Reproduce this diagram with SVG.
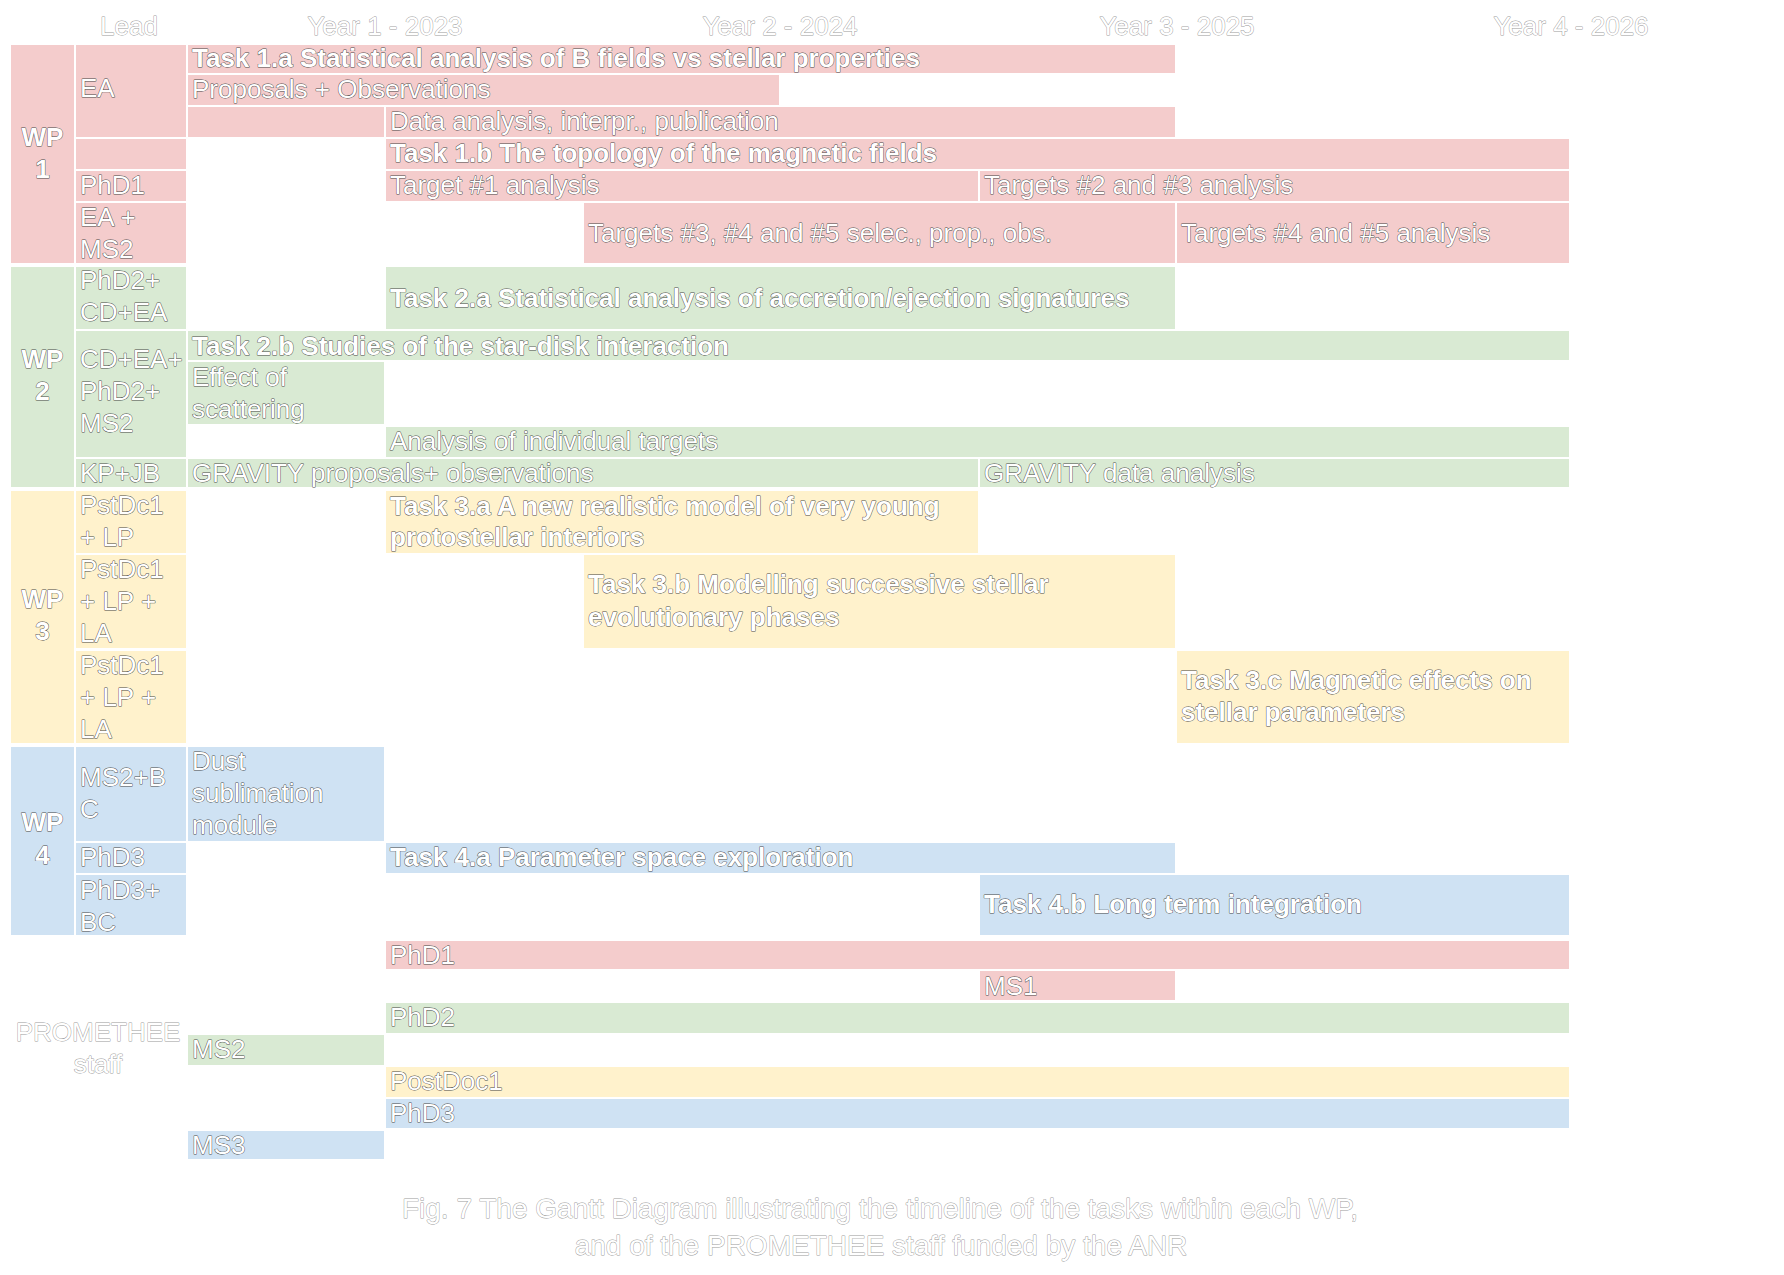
<svg xmlns="http://www.w3.org/2000/svg" width="1784" height="1275" viewBox="0 0 1784 1275">
<style>
.p{fill:#F4CCCC}.g{fill:#D9EAD3}.y{fill:#FFF2CC}.b{fill:#CFE2F3}
text{font-family:"Liberation Sans",Arial,sans-serif;font-size:26px;fill:#fff;stroke:#4a4a4a;stroke-width:0.9;paint-order:stroke;stroke-linejoin:round}
.bd{font-weight:bold}
.lt{stroke:#9a9a9a}
.c{text-anchor:middle}
.cap{font-size:28px}
</style>
<rect width="1784" height="1275" fill="#fff"/>
<g id="header">
<text class="lt c" x="129" y="35">Lead</text>
<text class="lt c" x="385" y="35">Year 1 - 2023</text>
<text class="lt c" x="780" y="35">Year 2 - 2024</text>
<text class="lt c" x="1177" y="35">Year 3 - 2025</text>
<text class="lt c" x="1571" y="35">Year 4 - 2026</text>
</g>
<g id="wp1">
<rect class="p" x="11" y="45" width="63" height="218"/>
<text class="bd c" x="42.5" y="146">WP</text>
<text class="bd c" x="42.5" y="178">1</text>
<g id="lead-ea"><rect class="p" x="76" y="45" width="110" height="92"/><text x="80" y="97">EA</text></g>
<g id="lead-empty1b"><rect class="p" x="76" y="139" width="110" height="30"/></g>
<g id="lead-phd1"><rect class="p" x="76" y="171" width="110" height="30"/><text x="80" y="194">PhD1</text></g>
<g id="lead-eams2"><rect class="p" x="76" y="203" width="110" height="60"/><text x="80" y="226">EA +</text><text x="80" y="258">MS2</text></g>
<g id="task1a"><rect class="p" x="188" y="45" width="987" height="28"/><text class="bd" x="192" y="67">Task 1.a Statistical analysis of B fields vs stellar properties</text></g>
<g id="proposals"><rect class="p" x="188" y="75" width="591" height="30"/><text x="192" y="98">Proposals + Observations</text></g>
<g id="data-empty"><rect class="p" x="188" y="107" width="196" height="30"/></g>
<g id="data-analysis"><rect class="p" x="386" y="107" width="789" height="30"/><text x="390" y="130">Data analysis, interpr., publication</text></g>
<g id="task1b"><rect class="p" x="386" y="139" width="1183" height="30"/><text class="bd" x="390" y="162">Task 1.b The topology of the magnetic fields</text></g>
<g id="target1"><rect class="p" x="386" y="171" width="592" height="30"/><text x="390" y="194">Target #1 analysis</text></g>
<g id="target23"><rect class="p" x="980" y="171" width="589" height="30"/><text x="984" y="194">Targets #2 and #3 analysis</text></g>
<g id="target345"><rect class="p" x="584" y="203" width="591" height="60"/><text x="588" y="242">Targets #3, #4 and #5 selec., prop., obs.</text></g>
<g id="target45"><rect class="p" x="1177" y="203" width="392" height="60"/><text x="1181" y="242">Targets #4 and #5 analysis</text></g>
</g>
<g id="wp2">
<rect class="g" x="11" y="267" width="63" height="220"/>
<text class="bd c" x="42.5" y="368">WP</text>
<text class="bd c" x="42.5" y="400">2</text>
<g id="lead-phd2cdea"><rect class="g" x="76" y="267" width="110" height="62"/><text x="80" y="289">PhD2+</text><text x="80" y="321">CD+EA</text></g>
<g id="lead-cdea"><rect class="g" x="76" y="331" width="110" height="126"/><text x="80" y="368">CD+EA+</text><text x="80" y="400">PhD2+</text><text x="80" y="432">MS2</text></g>
<g id="lead-kpjb"><rect class="g" x="76" y="459" width="110" height="28"/><text x="80" y="482">KP+JB</text></g>
<g id="task2a"><rect class="g" x="386" y="267" width="789" height="62"/><text class="bd" x="390" y="307">Task 2.a Statistical analysis of accretion/ejection signatures</text></g>
<g id="task2b"><rect class="g" x="188" y="331" width="1381" height="29"/><text class="bd" x="192" y="355">Task 2.b Studies of the star-disk interaction</text></g>
<g id="scattering"><rect class="g" x="188" y="362" width="196" height="62"/><text x="192" y="386">Effect of</text><text x="192" y="418">scattering</text></g>
<g id="individual"><rect class="g" x="386" y="427" width="1183" height="30"/><text x="390" y="450">Analysis of individual targets</text></g>
<g id="gravity-prop"><rect class="g" x="188" y="459" width="790" height="28"/><text x="192" y="482">GRAVITY proposals+ observations</text></g>
<g id="gravity-data"><rect class="g" x="980" y="459" width="589" height="28"/><text x="984" y="482">GRAVITY data analysis</text></g>
</g>
<g id="wp3">
<rect class="y" x="11" y="491" width="63" height="252"/>
<text class="bd c" x="42.5" y="608">WP</text>
<text class="bd c" x="42.5" y="640">3</text>
<g id="lead-3a"><rect class="y" x="76" y="491" width="110" height="62"/><text x="80" y="514">PstDc1</text><text x="80" y="546">+ LP</text></g>
<g id="lead-3b"><rect class="y" x="76" y="555" width="110" height="93"/><text x="80" y="578">PstDc1</text><text x="80" y="610">+ LP +</text><text x="80" y="642">LA</text></g>
<g id="lead-3c"><rect class="y" x="76" y="651" width="110" height="92"/><text x="80" y="674">PstDc1</text><text x="80" y="706">+ LP +</text><text x="80" y="738">LA</text></g>
<g id="task3a"><rect class="y" x="386" y="491" width="592" height="62"/><text class="bd" x="390" y="515">Task 3.a A new realistic model of very young</text><text class="bd" x="390" y="546">protostellar interiors</text></g>
<g id="task3b"><rect class="y" x="584" y="555" width="591" height="93"/><text class="bd" x="588" y="593">Task 3.b Modelling successive stellar</text><text class="bd" x="588" y="626">evolutionary phases</text></g>
<g id="task3c"><rect class="y" x="1177" y="651" width="392" height="92"/><text class="bd" x="1181" y="689">Task 3.c Magnetic effects on</text><text class="bd" x="1181" y="721">stellar parameters</text></g>
</g>
<g id="wp4">
<rect class="b" x="11" y="747" width="63" height="188"/>
<text class="bd c" x="42.5" y="831">WP</text>
<text class="bd c" x="42.5" y="864">4</text>
<g id="lead-4dust"><rect class="b" x="76" y="747" width="110" height="94"/><text x="80" y="786">MS2+B</text><text x="80" y="818">C</text></g>
<g id="lead-4a"><rect class="b" x="76" y="843" width="110" height="30"/><text x="80" y="866">PhD3</text></g>
<g id="lead-4b"><rect class="b" x="76" y="875" width="110" height="60"/><text x="80" y="899">PhD3+</text><text x="80" y="931">BC</text></g>
<g id="dust"><rect class="b" x="188" y="747" width="196" height="94"/><text x="192" y="770">Dust</text><text x="192" y="802">sublimation</text><text x="192" y="834">module</text></g>
<g id="task4a"><rect class="b" x="386" y="843" width="789" height="30"/><text class="bd" x="390" y="866">Task 4.a Parameter space exploration</text></g>
<g id="task4b"><rect class="b" x="980" y="875" width="589" height="60"/><text class="bd" x="984" y="913">Task 4.b Long term integration</text></g>
</g>
<g id="staff">
<text class="lt c" x="98" y="1041">PROMETHEE</text>
<text class="lt c" x="98" y="1073">staff</text>
<g id="s-phd1"><rect class="p" x="386" y="941" width="1183" height="28"/><text x="390" y="964">PhD1</text></g>
<g id="s-ms1"><rect class="p" x="980" y="971" width="195" height="29"/><text x="984" y="995">MS1</text></g>
<g id="s-phd2"><rect class="g" x="386" y="1003" width="1183" height="30"/><text x="390" y="1026">PhD2</text></g>
<g id="s-ms2"><rect class="g" x="188" y="1035" width="196" height="30"/><text x="192" y="1058">MS2</text></g>
<g id="s-postdoc1"><rect class="y" x="386" y="1067" width="1183" height="30"/><text x="390" y="1090">PostDoc1</text></g>
<g id="s-phd3"><rect class="b" x="386" y="1099" width="1183" height="29"/><text x="390" y="1122">PhD3</text></g>
<g id="s-ms3"><rect class="b" x="188" y="1131" width="196" height="28"/><text x="192" y="1154">MS3</text></g>
</g>
<g id="caption">
<text class="lt c cap" x="880" y="1218">Fig. 7 The Gantt Diagram illustrating the timeline of the tasks within each WP,</text>
<text class="lt c cap" x="881" y="1255">and of the PROMETHEE staff funded by the ANR</text>
</g>
<g id="connectors"/>
</svg>
